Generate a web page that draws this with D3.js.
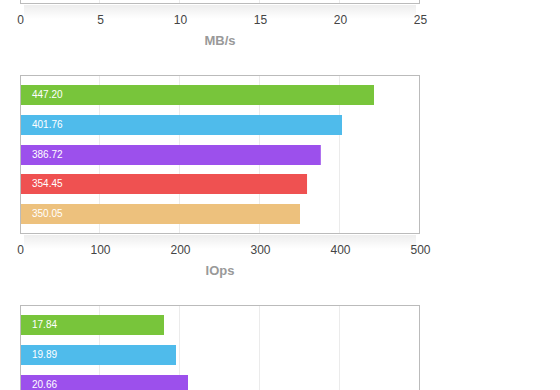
<!DOCTYPE html>
<html>
<head>
<meta charset="utf-8">
<script src="https://cdn.jsdelivr.net/npm/d3@7"></script>
<style>
  body { margin: 0; background: #fff; }
  svg { display: block; font-family: "Liberation Sans", Arial, sans-serif; }
  .tick text { fill: #444; font-size: 12px; }
  .axis-title { fill: #999; font-size: 13px; font-weight: bold; }
  .bar-label { fill: #fff; font-size: 10px; }
</style>
</head>
<body>
<svg id="chart"></svg>
<script>
// colours used by every chart, one per bar row
var barColors = ["#78c53b", "#4fbbeb", "#9c50ec", "#ef5151", "#edc17d"];

// chart 1 (MB/s) - only its x axis is in view
var mbTicks = [0, 5, 10, 15, 20, 25];
var mbValues = [];
var mbLabels = [];

// chart 2 (IOps)
var iopsTicks = [0, 100, 200, 300, 400, 500];
var iopsValues = [442.5, 402.5, 376, 358.8, 350];
var iopsLabels = ["447.20", "401.76", "386.72", "354.45", "350.05"];

// chart 3 - only the first three bars are in view, axis is below the page
var c3Ticks = [0, 10, 20, 30, 40, 50];
var c3Values = [18.0, 19.5, 21.0];
var c3Labels = ["17.84", "19.89", "20.66"];

var W = 560, H = 390;
var svg = d3.select("#chart").attr("width", W).attr("height", H);

var defs = svg.append("defs");
var grad = defs.append("linearGradient")
    .attr("id", "shadow")
    .attr("x1", 0).attr("y1", 0).attr("x2", 0).attr("y2", 1);
grad.append("stop").attr("offset", "0%").attr("stop-color", "#000").attr("stop-opacity", 0.07);
grad.append("stop").attr("offset", "100%").attr("stop-color", "#000").attr("stop-opacity", 0);

var left = 20, right = 420, plotH = 159;

function drawChart(top, ticks, values, labels, title) {
  var g = svg.append("g").attr("transform", "translate(0," + top + ")");

  var x = d3.scaleLinear()
      .domain([ticks[0], ticks[ticks.length - 1]])
      .range([left, right]);

  var y = d3.scaleBand()
      .domain(d3.range(5))
      .range([0, plotH])
      .paddingInner(1 / 3)
      .paddingOuter(1 / 3);

  // soft shadow under the box
  g.append("rect")
      .attr("x", left + 4)
      .attr("y", plotH + 1)
      .attr("width", right - left - 8)
      .attr("height", 14)
      .attr("fill", "url(#shadow)");

  g.append("rect")
      .attr("x", left + 0.5)
      .attr("y", 0.5)
      .attr("width", right - left - 1)
      .attr("height", plotH - 1)
      .attr("fill", "#fff");

  // vertical grid lines
  g.selectAll(".grid")
    .data(ticks.slice(1, -1))
    .enter().append("line")
      .attr("class", "grid")
      .attr("x1", function(d) { return Math.floor(x(d)) - 0.5; })
      .attr("x2", function(d) { return Math.floor(x(d)) - 0.5; })
      .attr("y1", 1)
      .attr("y2", plotH - 1)
      .attr("stroke", "#ebebeb");

  g.selectAll(".bar")
    .data(values)
    .enter().append("rect")
      .attr("class", "bar")
      .attr("x", x(0) + 1)
      .attr("y", function(d, i) { return Math.round(y(i)); })
      .attr("width", function(d) { return x(d) - x(0) - 1; })
      .attr("height", Math.round(y.bandwidth()))
      .attr("fill", function(d, i) { return barColors[i]; });

  g.selectAll(".bar-label")
    .data(labels)
    .enter().append("text")
      .attr("class", "bar-label")
      .attr("x", left + 12)
      .attr("y", function(d, i) { return Math.round(y(i)) + y.bandwidth() / 2; })
      .attr("dy", "0.35em")
      .text(function(d) { return d; });

  // box outline
  g.append("rect")
      .attr("x", left + 0.5)
      .attr("y", 0.5)
      .attr("width", right - left - 1)
      .attr("height", plotH - 1)
      .attr("fill", "none")
      .attr("stroke", "#bbb");

  // axis only when it lands inside the page
  if (top + plotH < H) {
    var axis = g.append("g")
        .attr("transform", "translate(0," + plotH + ")")
        .call(d3.axisBottom(x).tickValues(ticks).tickSize(0).tickPadding(11).tickFormat(d3.format("d")));
    axis.select(".domain").remove();
    axis.selectAll("text").attr("font-family", null).attr("font-size", null);

    g.append("text")
        .attr("class", "axis-title")
        .attr("x", (left + right) / 2)
        .attr("y", plotH + 41)
        .attr("text-anchor", "middle")
        .text(title);
  }
}

drawChart(4 - plotH, mbTicks, mbValues, mbLabels, "MB/s");
drawChart(75, iopsTicks, iopsValues, iopsLabels, "IOps");
drawChart(305, c3Ticks, c3Values, c3Labels, "");
</script>
</body>
</html>
